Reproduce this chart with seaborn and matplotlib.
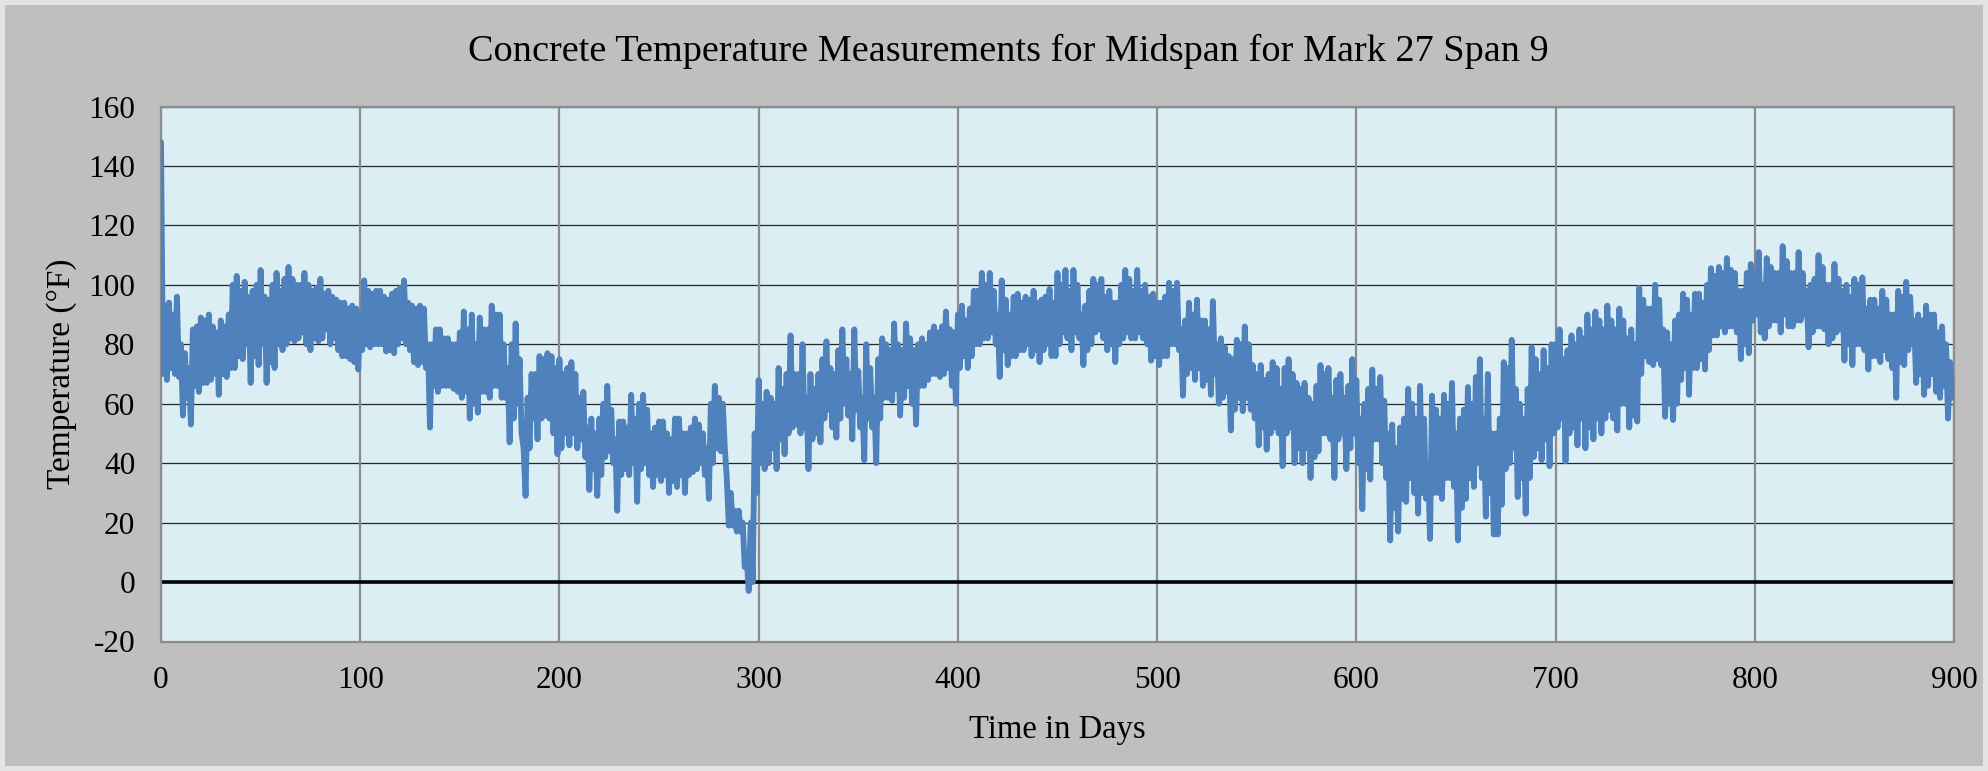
import numpy as np
import pandas as pd
import matplotlib
matplotlib.use("Agg")
import matplotlib.pyplot as plt
import seaborn as sns
from matplotlib.patches import Rectangle

# Midspan concrete temperature (°F). Each 2-day slot holds the peak reading
# (even day) followed by the trough reading (odd day), grouped in 100-day blocks.
high_000 = [148, 93, 94, 90, 96, 80, 77, 72, 85, 86,
            89, 88, 90, 86, 84, 88, 86, 90, 100, 103,
            98, 101, 96, 98, 100, 105, 96, 95, 100, 104,
            98, 102, 106, 102, 100, 100, 104, 100, 98, 99,
            102, 97, 98, 96, 95, 94, 94, 92, 93, 92]
low_000 = [70, 68, 72, 70, 69, 56, 62, 53, 66, 64,
           67, 67, 68, 70, 63, 70, 69, 72, 72, 76,
           75, 80, 67, 76, 73, 80, 67, 74, 72, 80,
           78, 80, 82, 81, 82, 84, 80, 78, 82, 81,
           82, 85, 80, 82, 78, 76, 76, 75, 74, 71.5]

high_100 = [90, 101.5, 98, 97, 98, 98, 96, 95, 97, 98,
            99, 101.5, 94, 93, 92, 93, 92, 80, 80, 85,
            85, 82, 82, 80, 80, 84, 91, 85, 90, 80,
            89, 85, 85, 93, 90, 90, 80, 72, 80, 87,
            75, 45, 62, 70, 70, 76, 75, 77, 76, 72]
low_100 = [78, 80, 79, 80, 80, 80, 77.6, 78, 77, 80,
           82, 80, 78, 74, 73, 74, 72, 52, 66, 64,
           66, 66, 66, 65, 64, 62, 64, 55, 60, 57,
           64, 64, 62, 66, 66, 62, 62, 47, 55, 60,
           50, 29, 45, 55, 48, 55, 56, 55, 50, 43]

high_200 = [75, 70, 72, 74, 70, 62, 64, 52, 55, 50,
            55, 60, 66, 58, 48, 54, 54, 52, 63, 55,
            60, 63, 58, 50, 52, 54, 54, 50, 48, 55,
            55, 50, 50, 52, 55, 53, 50, 45, 60, 66,
            62, 60, 35, 30, 24, 24, 20, 8, 20, 50]
low_200 = [45, 50, 46, 50, 45, 48, 42, 31, 38, 29,
           36, 42, 44, 40, 24, 36, 38, 36, 40, 27,
           38, 40, 36, 32, 36, 34, 36, 30, 34, 32,
           36, 30, 36, 37, 38, 40, 36, 28, 40, 45,
           44, 45, 19, 19, 17, 17, 5, -3, 0, 30]

high_300 = [68, 60, 64, 62, 60, 72, 65, 70, 83, 70,
            70, 80, 62, 70, 65, 70, 75, 81, 72, 70,
            78, 85, 75, 70, 85, 71, 62, 80, 72, 62,
            75, 82, 80, 78, 87, 80, 78, 87, 82, 78,
            80, 82, 80, 84, 86, 84, 86, 91, 85, 84]
low_300 = [40, 38, 40, 45, 38, 48, 43, 50, 52, 53,
           50, 52, 38, 48, 50, 47, 55, 58, 52, 48.6,
           55, 60, 56, 48, 58, 52, 41, 55, 52, 40,
           55, 62, 62, 61, 65, 56, 62, 66, 60, 53,
           66, 66, 68, 70, 70, 69, 70, 72, 66, 60]

high_400 = [90, 93, 88, 92, 98, 98, 104, 100, 104, 98,
            90, 101.5, 95, 90, 96, 97, 94, 96, 95, 98,
            94, 95, 96, 98.6, 94, 104, 100, 105, 98, 105,
            100, 90, 93, 98, 102, 100, 102, 96, 98, 94,
            94, 100, 105, 102, 98, 105, 98, 100, 96, 97]
low_400 = [72, 76, 72, 76, 80, 80, 82, 82, 84, 80,
           69, 78, 73, 76, 76, 78, 78, 80, 76, 78,
           74, 78, 80, 76, 76, 80, 84, 82, 78, 84,
           82, 73, 78, 80, 84, 85, 82, 78, 80, 74,
           80, 82, 84, 82, 82, 84, 82, 80, 74.5, 76]

high_500 = [94, 94, 96, 100.7, 98, 100.7, 85, 88, 94, 90,
            95, 88, 88, 85, 94.5, 80, 82, 79, 76, 75,
            81.5, 80, 86, 80, 73, 70, 73, 68, 70, 74,
            72, 65, 72, 75, 70, 67, 65, 67, 62, 60,
            66, 73, 70, 72, 62, 68, 70, 62, 66, 75]
low_500 = [73, 76, 76, 80, 80, 78, 62.7, 70, 72, 68,
           72, 66, 68, 63, 70, 60, 62, 64, 51, 58,
           62, 57.5, 62, 58, 55, 46, 52, 44.5, 50, 52,
           50, 39, 50, 52, 40, 45, 40, 45, 35, 42,
           44, 50, 50, 48, 35, 48, 50, 38, 45, 50]

high_600 = [68, 55, 60, 65, 71.5, 65, 69, 61, 50, 53,
            45, 52, 55, 65, 60, 55, 66, 55, 40, 62.7,
            58, 55, 63, 60, 67, 50, 55, 58, 65.6, 60,
            69, 75, 55, 70, 50, 50, 55, 74, 72, 81.5,
            65, 60, 55, 65, 79, 75, 70, 78, 72, 80]
low_600 = [40, 24.5, 38, 34.5, 48, 48, 40, 35, 14, 25,
           17, 28, 27, 35, 30, 23, 30, 28, 14.5, 30,
           30, 28, 35, 35, 32, 14, 25, 28, 35, 32,
           40, 35, 22, 30, 16, 16, 26, 38, 40, 45,
           28.6, 35, 23, 35, 42, 45, 41, 48, 39, 50]

high_700 = [80, 85, 75, 78, 83, 80, 85, 82, 90, 85,
            91, 88, 85, 93, 88, 85, 92, 88, 82, 85,
            80, 99, 95, 92, 92, 100, 95, 85, 84, 80,
            88, 90, 97, 95, 90, 97, 97, 94, 100, 105.6,
            103, 106, 104, 109, 105, 104, 98, 98, 104, 107]
low_700 = [52, 55, 40.6, 50, 52, 46, 55, 45, 52, 48,
           55, 50, 55, 58, 55, 51, 60, 60, 52, 56,
           54, 70, 76, 74, 73, 75, 73, 55.6, 60, 54.5,
           60, 68, 72, 63, 72, 72, 75, 71.5, 78, 83,
           83, 86, 84, 86, 86, 84, 75, 80, 77, 88]

high_800 = [104, 111, 100, 109, 106, 104, 104, 113, 108, 104,
            104, 111, 104, 98, 100, 102, 110, 106, 100, 100,
            107, 102, 98, 100, 96, 102, 100, 102.5, 92, 95,
            95, 92, 98, 95, 90, 90, 98, 96, 101, 96,
            88, 90, 88, 93, 90, 90, 84, 86, 80, 74, 68]
low_800 = [90, 84, 82, 86, 88, 88, 84, 90, 86, 86,
           88, 88, 90, 79, 84, 86, 86, 85, 80, 82,
           84, 85, 74.5, 80, 73, 80, 80, 78, 71.5, 76,
           76, 74, 78, 75, 72, 62, 74, 73, 78, 80,
           67, 70, 63, 66, 70, 64, 62, 66, 55, 62]

highs = (high_000 + high_100 + high_200 + high_300 + high_400
         + high_500 + high_600 + high_700 + high_800)
lows = (low_000 + low_100 + low_200 + low_300 + low_400
        + low_500 + low_600 + low_700 + low_800)

temperature = np.empty(len(highs) + len(lows))
temperature[0::2] = highs
temperature[1::2] = lows
days = np.arange(len(temperature))

x_ticks = [0, 100, 200, 300, 400, 500, 600, 700, 800, 900]
y_ticks = [-20, 0, 20, 40, 60, 80, 100, 120, 140, 160]

title = "Concrete Temperature Measurements for Midspan for Mark 27 Span 9"
x_label = "Time in Days"
y_label = "Temperature (°F)"

df = pd.DataFrame({"day": days, "temp": temperature})

sns.set_theme(style="white")
plt.rcParams["font.family"] = ["Liberation Serif", "DejaVu Serif"]
plt.rcParams["text.color"] = "black"
plt.rcParams["axes.labelcolor"] = "black"

W, H = 1988, 771
fig = plt.figure(figsize=(W / 100, H / 100), dpi=100)
fig.patch.set_facecolor("#e4e4e4")
fig.patches.append(Rectangle((5 / W, 5 / H), 1 - 10 / W, 1 - 10 / H,
                             transform=fig.transFigure, facecolor="#bfbfbf",
                             edgecolor="none", zorder=-10))

ax = fig.add_axes([161 / W, 1 - 641.5 / H, (1954 - 161) / W, (641.5 - 106.5) / H])
ax.set_zorder(1)
ax.set_facecolor("#dbeef4")

# grid: thin dark horizontals, grey verticals
for yv in y_ticks:
    ax.axhline(yv, color="#262626", lw=0.9, zorder=1)
for xv in x_ticks:
    ax.axvline(xv, color="#8c8c8c", lw=1.6, zorder=1)
ax.axhline(0, color="black", lw=2.6, zorder=2)

sns.lineplot(data=df, x="day", y="temp", ax=ax, color="#4f81bd", linewidth=4.2,
             estimator=None, sort=False, zorder=3,
             solid_joinstyle="round", solid_capstyle="round")

ax.set_xlim(0, 900)
ax.set_ylim(-20, 160)
ax.set_xticks(x_ticks)
ax.set_yticks(y_ticks)
ax.set_xticklabels([str(v) for v in x_ticks])
ax.set_yticklabels([str(v) for v in y_ticks])
ax.tick_params(axis="both", length=0, labelsize=22.5, colors="black")
ax.tick_params(axis="y", pad=18.5)
ax.tick_params(axis="x", pad=18)
for side in ["left", "right", "top", "bottom"]:
    ax.spines[side].set_visible(True)
    ax.spines[side].set_color("#8c8c8c")
    ax.spines[side].set_linewidth(1.6)

ax.set_xlabel(x_label, fontsize=23.5, labelpad=14)
ax.set_ylabel(y_label, fontsize=24, labelpad=8)
fig.text(1008 / W, 1 - 51 / H, title, ha="center", va="center",
         fontsize=27.5)

fig.savefig("out.png", dpi=100, facecolor=fig.get_facecolor())
